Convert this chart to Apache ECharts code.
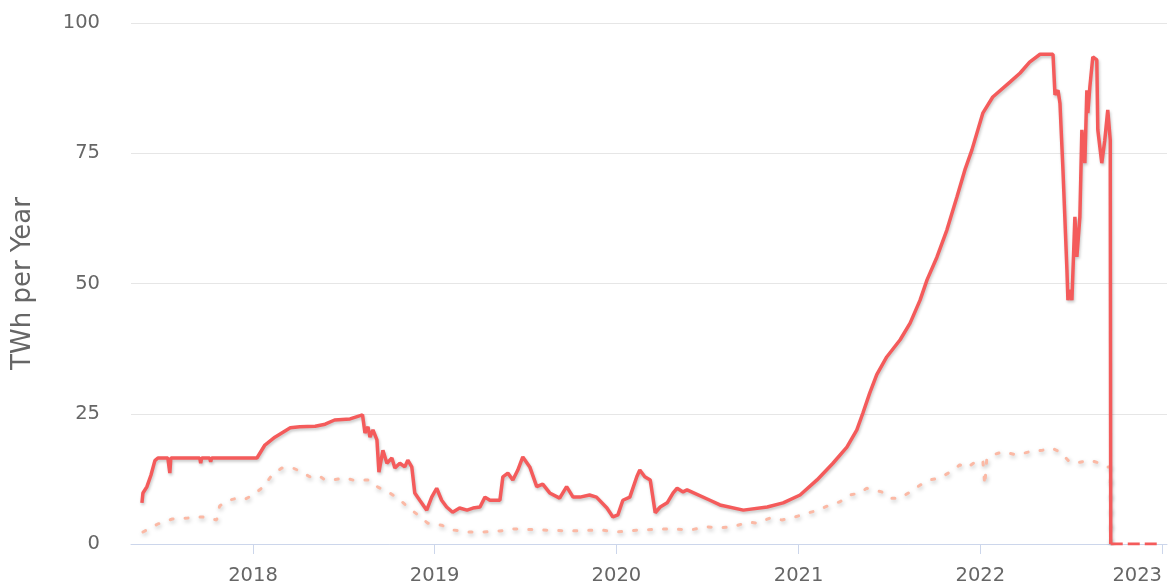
<!DOCTYPE html>
<html>
<head>
<meta charset="utf-8">
<script src="https://cdn.jsdelivr.net/npm/echarts@6/dist/echarts.min.js"></script>
<style>
  html, body { margin: 0; padding: 0; background: #fff; }
  #chart { width: 1171px; height: 585px; }
</style>
</head>
<body>
<div id="chart"></div>
<script>
// 上限估计（红色实线）
var maxDates = ['2017-05-23','2017-05-25','2017-06-02','2017-06-10','2017-06-18','2017-06-24','2017-07-14','2017-07-18','2017-07-20',
  '2017-09-16','2017-09-18','2017-09-20','2017-10-06','2017-10-08','2017-10-10','2018-01-09','2018-01-25','2018-02-14','2018-03-17',
  '2018-04-05','2018-05-06','2018-05-26','2018-06-14','2018-07-15','2018-08-09','2018-08-14','2018-08-20','2018-08-24','2018-08-30',
  '2018-09-07','2018-09-11','2018-09-19','2018-09-27','2018-10-07','2018-10-13','2018-10-23','2018-11-02','2018-11-08','2018-11-16',
  '2018-11-22','2018-12-02','2018-12-16','2018-12-26','2019-01-05','2019-01-15','2019-01-25','2019-02-06','2019-02-20','2019-03-07',
  '2019-03-19','2019-04-02','2019-04-12','2019-04-22','2019-05-12','2019-05-18','2019-05-28','2019-06-07','2019-06-17','2019-06-27',
  '2019-07-11','2019-07-25','2019-08-06','2019-08-20','2019-09-09','2019-09-23','2019-10-06','2019-10-20','2019-11-08','2019-11-22',
  '2019-12-13','2019-12-25','2020-01-04','2020-01-14','2020-01-28','2020-02-11','2020-02-17','2020-02-27','2020-03-09','2020-03-19',
  '2020-03-29','2020-04-12','2020-04-24','2020-05-02','2020-05-14','2020-05-22','2020-07-07','2020-07-27','2020-09-12','2020-10-30',
  '2020-12-01','2021-01-04','2021-02-07','2021-03-11','2021-04-08','2021-04-28','2021-05-10','2021-05-24','2021-06-07','2021-06-27',
  '2021-07-24','2021-08-13','2021-09-02','2021-09-16','2021-10-06','2021-10-26','2021-11-15','2021-12-01','2021-12-15','2022-01-06',
  '2022-01-26','2022-03-02','2022-03-22','2022-04-10','2022-05-01','2022-05-27','2022-05-31','2022-06-06','2022-06-10','2022-06-16',
  '2022-06-24','2022-06-26','2022-06-30','2022-07-04','2022-07-10','2022-07-14','2022-07-20','2022-07-24','2022-07-30','2022-08-03',
  '2022-08-05','2022-08-09','2022-08-15','2022-08-23','2022-08-25','2022-09-02','2022-09-08','2022-09-14','2022-09-19','2022-09-20'];
var maxValues = [7.9,9.8,11,13.2,16,16.5,16.5,13.6,16.5,
  16.5,15.5,16.5,16.5,15.8,16.5,16.5,19,20.5,22.3,
  22.5,22.6,23,23.8,24,24.8,21.3,22.5,20.5,21.9,
  20,13.8,18,15.5,16.5,14.6,15.5,14.8,16.1,14.8,
  9.8,8.4,6.5,9,10.7,8.4,7.1,6.1,6.9,6.5,
  6.9,7.1,9,8.4,8.4,12.9,13.6,12.3,14.2,16.7,
  14.8,11,11.5,9.8,8.8,11,9,9,9.4,9,
  6.9,5.2,5.6,8.4,9,12.9,14.2,12.9,12.3,6,
  7.1,7.9,9.8,10.7,10,10.4,8.4,7.5,6.5,7.1,
  7.9,9.4,12.3,15.5,18.6,21.9,25.1,29,32.5,35.9,
  39.2,42.4,46.8,50.7,55.1,60.3,66.6,71.8,75.6,82.7,
  85.8,88.7,90.4,92.5,94,94,86.2,87.1,84.6,71.8,
  52.6,46.8,48.8,46.8,62.8,55.1,62.8,79.5,73.1,87.1,
  82.7,87.7,93.5,92.9,79.5,73.1,77.5,83.3,77.5,0];

// 合并后（红色虚线）
var afterDates = ['2022-09-20','2022-12-31'];
var afterValues = [0, 0];

// 下限估计（点线）
var minDates = ['2017-05-25','2017-06-23','2017-07-23','2017-08-23','2017-09-21','2017-10-20','2017-10-26','2017-11-10','2017-11-30',
  '2017-12-16','2018-01-01','2018-01-21','2018-02-08','2018-02-28','2018-03-22','2018-04-09','2018-04-25','2018-05-12','2018-05-26',
  '2018-06-10','2018-07-04','2018-07-20','2018-08-07','2018-08-23','2018-09-09','2018-09-29','2018-10-19','2018-11-08','2018-11-28',
  '2018-12-18','2019-01-15','2019-02-06','2019-03-09','2019-04-08','2019-05-12','2019-06-07','2019-08-01','2019-09-30','2019-11-30',
  '2020-01-02','2020-02-17','2020-04-18','2020-05-29','2020-07-01','2020-07-27','2020-08-22','2020-09-22','2020-10-10','2020-11-05',
  '2020-11-29','2020-12-25','2021-01-18','2021-02-09','2021-03-05','2021-03-25','2021-04-14','2021-05-04','2021-05-18','2021-05-30',
  '2021-06-17','2021-07-03','2021-07-24','2021-08-13','2021-09-02','2021-09-22','2021-10-12','2021-11-01','2021-11-21','2021-12-05',
  '2021-12-21','2022-01-06','2022-01-10','2022-01-14','2022-01-26','2022-02-15','2022-03-15','2022-04-10','2022-05-06','2022-05-24',
  '2022-06-10','2022-06-30','2022-07-20','2022-08-09','2022-08-29','2022-09-14','2022-09-19','2022-09-20'];
var minValues = [2.3,3.8,4.8,5,5.2,4.6,7.3,8.3,8.8,
  8.6,9.4,10.9,13.2,14.6,14.6,13.8,12.9,13.2,12.3,
  12.3,12.7,12.3,12.3,12.3,10.9,10,8.8,7.1,5.6,
  4,3.6,2.7,2.3,2.3,2.5,2.9,2.7,2.5,2.7,
  2.3,2.7,2.9,2.7,3.3,3.1,3.3,4.2,4,5,
  4.6,5.2,5.9,6.5,7.5,8.1,9.4,9.8,10.7,10.4,
  10,8.8,8.8,10,11.3,12.3,12.7,13.8,15.2,14.6,
  15.7,16.1,11.3,16.3,17.1,17.7,17.1,17.7,18,18.4,
  17.7,15.7,15.7,16.1,15.5,14.8,14.8,0];

var yearTicks = ['2018','2019','2020','2021','2022','2023'];

function pairs(d, v) {
  return d.map(function (x, i) { return [Date.parse(x), v[i]]; });
}

var chart = echarts.init(document.getElementById('chart'));
var yearValues = yearTicks.map(function (y) { return Date.UTC(+y, 0, 1); });
var font = 'DejaVu Sans';

var option = {
  animation: false,
  grid: { left: 131, right: 4, top: 23, bottom: 41, outerBoundsMode: 'none', containLabel: false },
  xAxis: {
    type: 'value',
    min: Date.UTC(2017, 4, 1),
    max: Date.UTC(2023, 0, 11),
    axisLine: { lineStyle: { color: '#ccd6eb', width: 1 } },
    axisTick: { show: true, length: 10, lineStyle: { color: '#ccd6eb' }, customValues: yearValues },
    axisLabel: {
      customValues: yearValues,
      color: '#666666',
      fontSize: 19.5,
      fontFamily: font,
      margin: 22,
      alignMaxLabel: 'right',
      formatter: function (v) { return String(new Date(v).getUTCFullYear()); }
    },
    splitLine: { show: false }
  },
  yAxis: {
    type: 'value',
    min: 0,
    max: 100,
    interval: 25,
    name: 'TWh per Year',
    nameLocation: 'middle',
    nameGap: 95,
    nameTextStyle: { color: '#666666', fontSize: 26, fontFamily: font },
    axisLine: { show: false },
    axisTick: { show: false },
    axisLabel: { color: '#666666', fontSize: 19.5, fontFamily: font, margin: 31 },
    splitLine: { lineStyle: { color: '#e6e6e6', width: 1 } }
  },
  series: [
    {
      name: 'Minimum',
      type: 'line',
      showSymbol: false,
      data: pairs(minDates, minValues),
      lineStyle: {
        color: '#fbb9a5', width: 3, type: [3, 12], cap: 'round',
        shadowColor: 'rgba(0,0,0,0.25)', shadowBlur: 4, shadowOffsetX: 1, shadowOffsetY: 2
      },
      z: 2
    },
    {
      name: 'Estimated',
      type: 'line',
      showSymbol: false,
      data: pairs(maxDates, maxValues),
      lineStyle: {
        color: '#f45b5b', width: 3.5,
        shadowColor: 'rgba(0,0,0,0.22)', shadowBlur: 3, shadowOffsetX: 1, shadowOffsetY: 2
      },
      z: 3
    },
    {
      name: 'After',
      type: 'line',
      showSymbol: false,
      data: pairs(afterDates, afterValues),
      lineStyle: { color: '#f45b5b', width: 3, type: [12, 5] },
      z: 3
    }
  ]
};
chart.setOption(option);
</script>
</body>
</html>
